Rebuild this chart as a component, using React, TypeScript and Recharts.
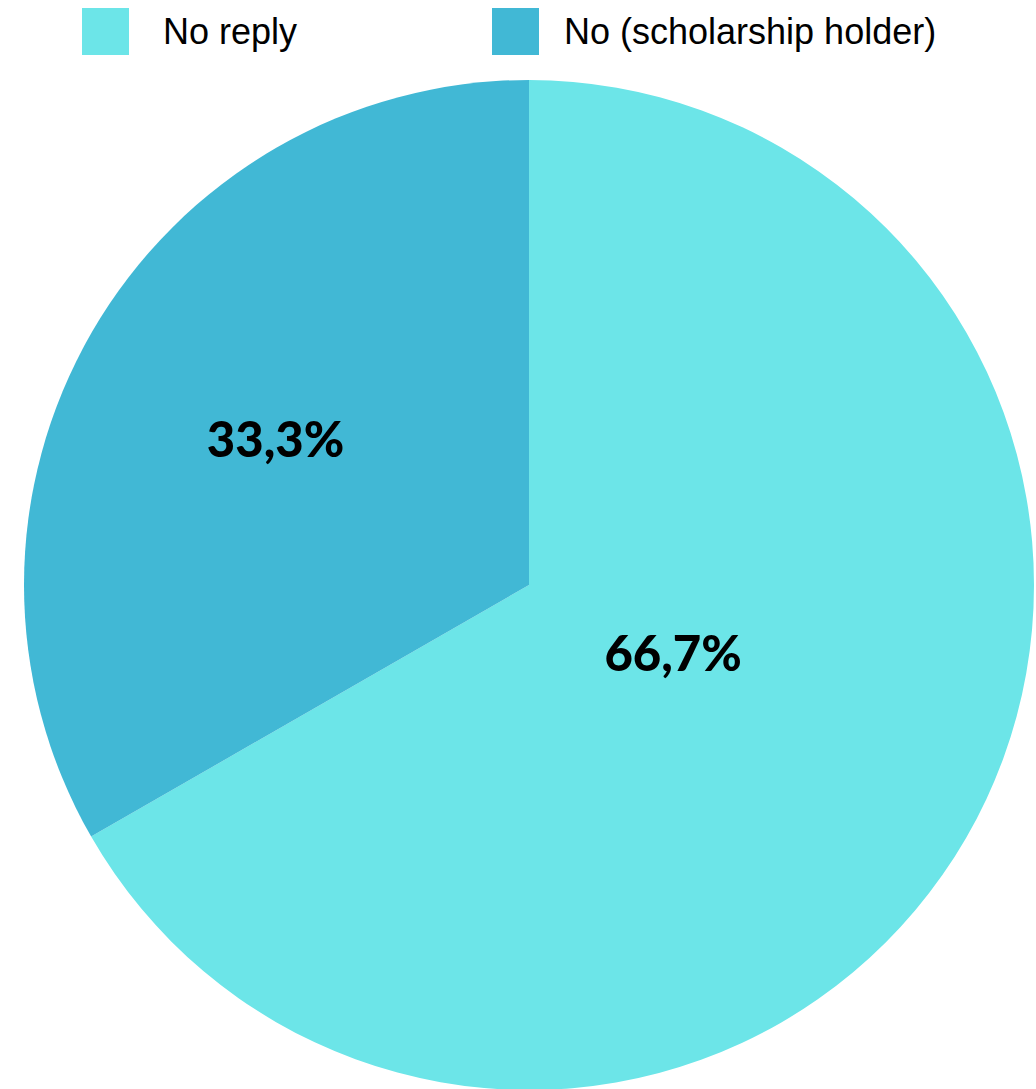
import React from "react";
import { PieChart, Pie, Cell, Legend } from "recharts";

const categories = ["No reply", "No (scholarship holder)"];
const values = [66.7, 33.3];
const valueLabels = ["66,7%", "33,3%"];
const colors = ["#6CE5E8", "#41B8D5"];

const data = categories.map((name, i) => ({ name, value: values[i], label: valueLabels[i] }));

const labelRadiusFactor = [0.315, 0.58];
const labelAngleShift = [5, 0];

const LEGEND_H = 64;

const renderLabel = (props: any) => {
  const { cx, cy, midAngle, outerRadius, index } = props;
  const RAD = Math.PI / 180;
  const r = outerRadius * labelRadiusFactor[index];
  const a = midAngle + labelAngleShift[index];
  const x = cx + r * Math.cos(-a * RAD);
  const y = cy + r * Math.sin(-a * RAD);
  return (
    <text
      x={x}
      y={y}
      fill="#000"
      textAnchor="middle"
      dominantBaseline="central"
      style={{ fontFamily: "Lato, 'Open Sans', sans-serif", fontWeight: 900, fontSize: 49 }}
    >
      {data[index].label}
    </text>
  );
};

const LegendContent = () => (
  <div style={{ position: "relative", width: 1036, height: LEGEND_H }}>
    {categories.map((c, i) => (
      <div
        key={c}
        style={{
          position: "absolute",
          left: i === 0 ? 82 : 492,
          top: 8,
          display: "flex",
          alignItems: "center",
        }}
      >
        <div style={{ width: 47, height: 47, background: colors[i] }} />
        <span
          style={{
            marginLeft: i === 0 ? 34 : 25,
            fontFamily: "'Liberation Sans', Arial, sans-serif",
            fontSize: 36,
            color: "#000",
            lineHeight: "47px",
          }}
        >
          {c}
        </span>
      </div>
    ))}
  </div>
);

export default function App() {
  return (
    <div style={{ position: "absolute", top: 0, left: 0, width: 1036, height: 1089, background: "#fff" }}>
      <PieChart width={1036} height={1089} margin={{ top: 0, right: 0, bottom: 0, left: 0 }}>
        <Legend
          verticalAlign="top"
          height={LEGEND_H}
          content={<LegendContent />}
          wrapperStyle={{ top: 0, left: 0, width: 1036 }}
        />
        <Pie
          data={data}
          dataKey="value"
          nameKey="name"
          cx={529}
          cy={585 - LEGEND_H}
          outerRadius={505}
          startAngle={90}
          endAngle={-270}
          stroke="none"
          label={renderLabel}
          labelLine={false}
          isAnimationActive={false}
        >
          {data.map((d, i) => (
            <Cell key={d.name} fill={colors[i]} />
          ))}
        </Pie>
      </PieChart>
    </div>
  );
}
